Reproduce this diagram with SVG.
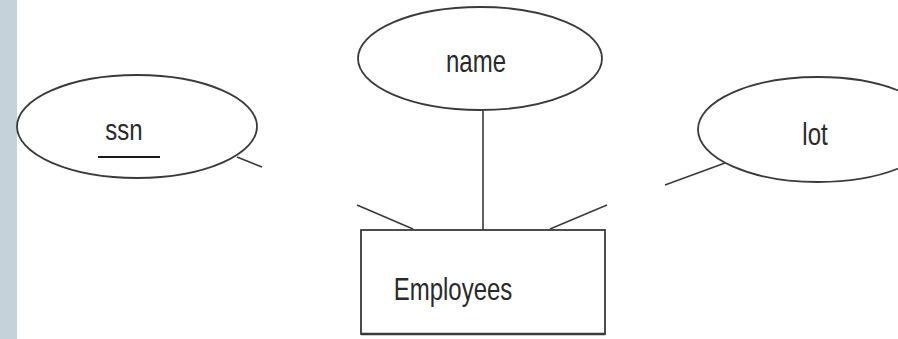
<svg xmlns="http://www.w3.org/2000/svg" width="898" height="339" viewBox="0 0 898 339">
<style>
.shape{fill:#ffffff;stroke:#3a3a3a;stroke-width:1.8}
.conn{stroke:#3a3a3a;stroke-width:1.6;fill:none}
.lbl{font-family:"Liberation Sans",Arial,sans-serif;font-size:24px;fill:#2a2a2a;text-anchor:middle}
</style>
<rect x="0" y="0" width="898" height="339" fill="#ffffff"/>
<rect x="0" y="0" width="17" height="339" fill="#c6d2d9"/>
<g id="connectors">
<line class="conn" x1="237" y1="157" x2="262" y2="167"/>
<line class="conn" x1="483" y1="111" x2="483" y2="230"/>
<line class="conn" x1="357" y1="205" x2="413" y2="229"/>
<line class="conn" x1="550" y1="229" x2="607" y2="205"/>
<line class="conn" x1="725" y1="163" x2="665" y2="185"/>
</g>
<g id="ssn">
<ellipse class="shape" cx="137" cy="126.5" rx="120" ry="51.5"/>
<text class="lbl" transform="translate(124,140) scale(1,1.25)">ssn</text>
<line x1="98" y1="157" x2="160" y2="157" stroke="#1a1a1a" stroke-width="2.2"/>
</g>
<g id="name">
<ellipse class="shape" cx="480" cy="58.5" rx="122" ry="51.5"/>
<text class="lbl" transform="translate(476,72) scale(1,1.3)">name</text>
</g>
<g id="lot">
<ellipse class="shape" cx="818" cy="129.5" rx="120" ry="52.5"/>
<text class="lbl" transform="translate(815,145) scale(1,1.3)">lot</text>
</g>
<g id="employees">
<rect class="shape" x="361" y="230" width="244" height="104"/>
<line x1="361" y1="334" x2="605" y2="334" stroke="#3a3a3a" stroke-width="2.6"/>
<text class="lbl" transform="translate(453,300) scale(1,1.3)">Employees</text>
</g>
</svg>
